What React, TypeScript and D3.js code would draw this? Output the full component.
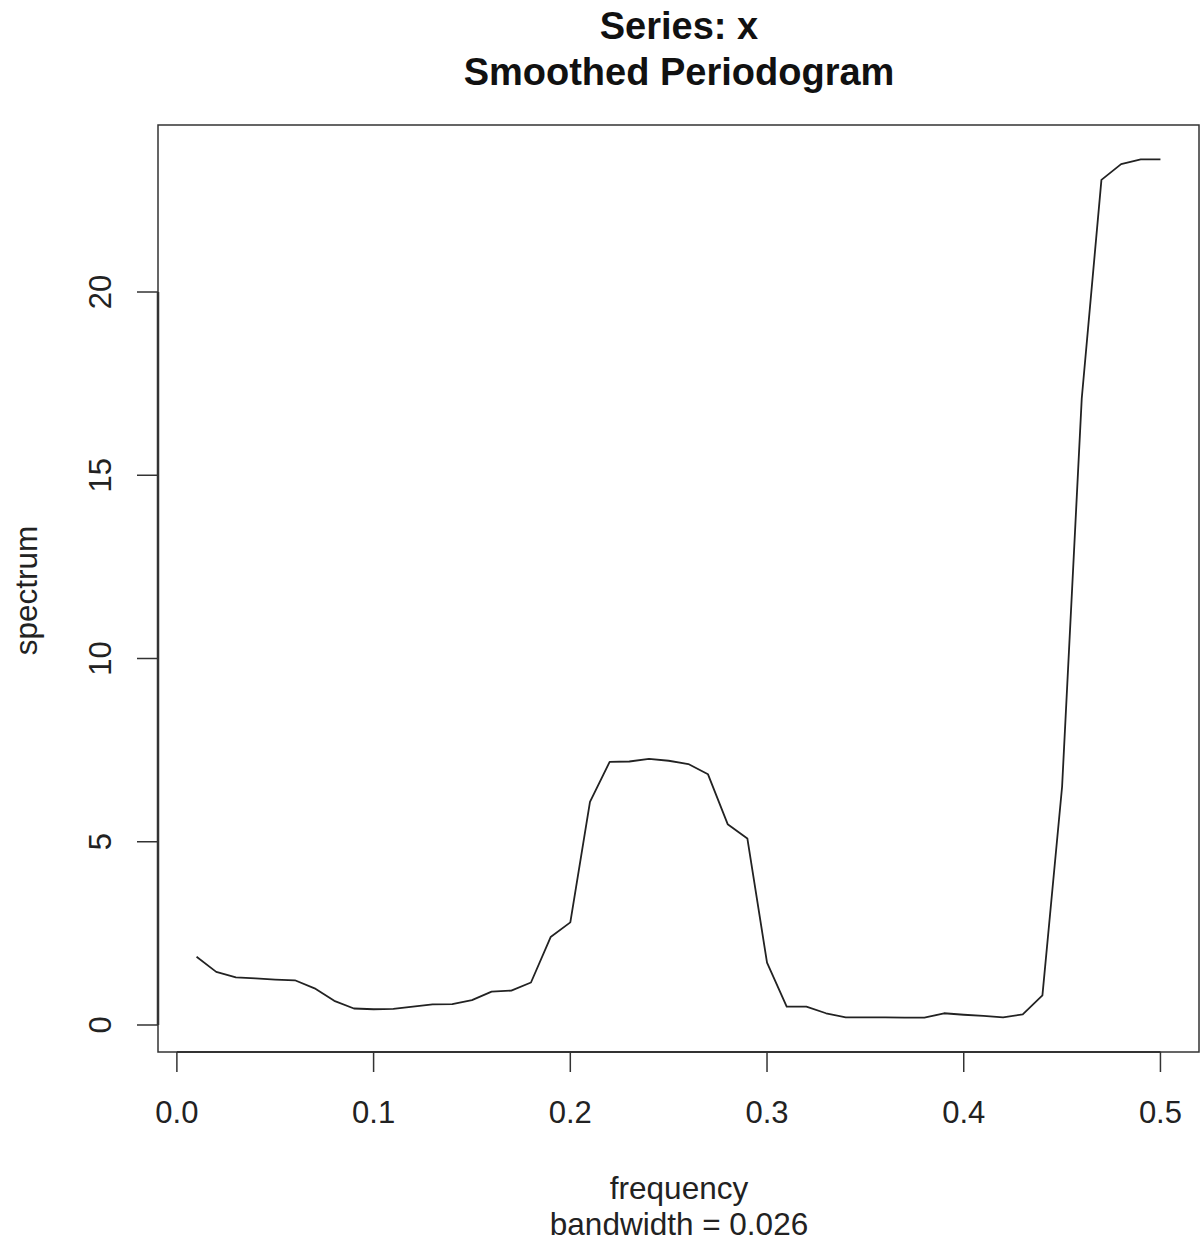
import React from "react";
import * as d3 from "d3";

const frequency = [
  0.01, 0.02, 0.03, 0.04, 0.05, 0.06, 0.07, 0.08, 0.09, 0.1,
  0.11, 0.12, 0.13, 0.14, 0.15, 0.16, 0.17, 0.18, 0.19, 0.2,
  0.21, 0.22, 0.23, 0.24, 0.25, 0.26, 0.27, 0.28, 0.29, 0.3,
  0.31, 0.32, 0.33, 0.34, 0.35, 0.36, 0.37, 0.38, 0.39, 0.4,
  0.41, 0.42, 0.43, 0.44, 0.45, 0.46, 0.47, 0.48, 0.49, 0.5,
];
const spectrum = [
  1.86, 1.45, 1.3, 1.27, 1.24, 1.22, 1.0, 0.66, 0.45, 0.43,
  0.44, 0.5, 0.56, 0.57, 0.68, 0.91, 0.94, 1.16, 2.4, 2.8,
  6.09, 7.18, 7.19, 7.26, 7.21, 7.12, 6.84, 5.48, 5.09, 1.7,
  0.5, 0.5, 0.32, 0.21, 0.21, 0.21, 0.2, 0.2, 0.32, 0.28,
  0.25, 0.21, 0.29, 0.81, 6.5, 17.1, 23.06, 23.49, 23.62, 23.62,
];
const xTicks = [0, 0.1, 0.2, 0.3, 0.4, 0.5];
const yTicks = [0, 5, 10, 15, 20];
const titleLines = ["Series: x", "Smoothed Periodogram"];
const xLabelLines = ["frequency", "bandwidth = 0.026"];
const yLabel = "spectrum";

const W = 1204;
const H = 1247;
const plot = { left: 158, right: 1199, top: 125, bottom: 1052 };
const font = "'Liberation Sans', Arial, Helvetica, sans-serif";

// R style 4% axis extension
const extend = (ext: [number, number]): [number, number] => {
  const pad = (ext[1] - ext[0]) * 0.04;
  return [ext[0] - pad, ext[1] + pad];
};

export default function App() {
  const x = d3
    .scaleLinear()
    .domain(extend(d3.extent(frequency) as [number, number]))
    .range([plot.left, plot.right]);
  const y = d3
    .scaleLinear()
    .domain(extend(d3.extent(spectrum) as [number, number]))
    .range([plot.bottom, plot.top]);

  const line = d3
    .line<number>()
    .x((_, i) => x(frequency[i]))
    .y((d) => y(d));

  const axisColor = "#333";

  return (
    <svg
      width={W}
      height={H}
      style={{ position: "absolute", left: 0, top: 0, background: "#fff" }}
      fontFamily={font}
    >
      {/* titles */}
      {titleLines.map((t, i) => (
        <text
          key={t}
          x={679}
          y={39 + i * 46}
          textAnchor="middle"
          fontSize={38}
          fontWeight="bold"
          fill="#111"
        >
          {t}
        </text>
      ))}

      {/* plot box */}
      <rect
        x={plot.left}
        y={plot.top}
        width={plot.right - plot.left}
        height={plot.bottom - plot.top}
        fill="none"
        stroke={axisColor}
        strokeWidth={1.5}
      />

      {/* x axis */}
      <line
        x1={x(xTicks[0])}
        x2={x(xTicks[xTicks.length - 1])}
        y1={plot.bottom}
        y2={plot.bottom}
        stroke={axisColor}
        strokeWidth={1.8}
      />
      {xTicks.map((t) => (
        <g key={t}>
          <line
            x1={x(t)}
            x2={x(t)}
            y1={plot.bottom}
            y2={plot.bottom + 20}
            stroke={axisColor}
            strokeWidth={1.5}
          />
          <text
            x={x(t)}
            y={1123}
            textAnchor="middle"
            fontSize={31}
            fill="#222"
          >
            {t.toFixed(1)}
          </text>
        </g>
      ))}

      {/* y axis */}
      <line
        x1={plot.left}
        x2={plot.left}
        y1={y(yTicks[0])}
        y2={y(yTicks[yTicks.length - 1])}
        stroke={axisColor}
        strokeWidth={2.5}
      />
      {yTicks.map((t) => (
        <g key={t}>
          <line
            x1={plot.left - 21}
            x2={plot.left}
            y1={y(t)}
            y2={y(t)}
            stroke={axisColor}
            strokeWidth={1.5}
          />
          <text
            transform={`translate(111,${y(t)}) rotate(-90)`}
            textAnchor="middle"
            fontSize={31}
            fill="#222"
          >
            {t}
          </text>
        </g>
      ))}

      {/* axis labels */}
      {xLabelLines.map((t, i) => (
        <text
          key={t}
          x={679}
          y={1199 + i * 36}
          textAnchor="middle"
          fontSize={31.5}
          fill="#222"
        >
          {t}
        </text>
      ))}
      <text
        transform={`translate(37,${(plot.top + plot.bottom) / 2 + 2}) rotate(-90)`}
        textAnchor="middle"
        fontSize={31.5}
        fill="#222"
      >
        {yLabel}
      </text>

      {/* spectrum line */}
      <path
        d={line(spectrum) || ""}
        fill="none"
        stroke="#222"
        strokeWidth={1.8}
        strokeLinejoin="round"
      />
    </svg>
  );
}
